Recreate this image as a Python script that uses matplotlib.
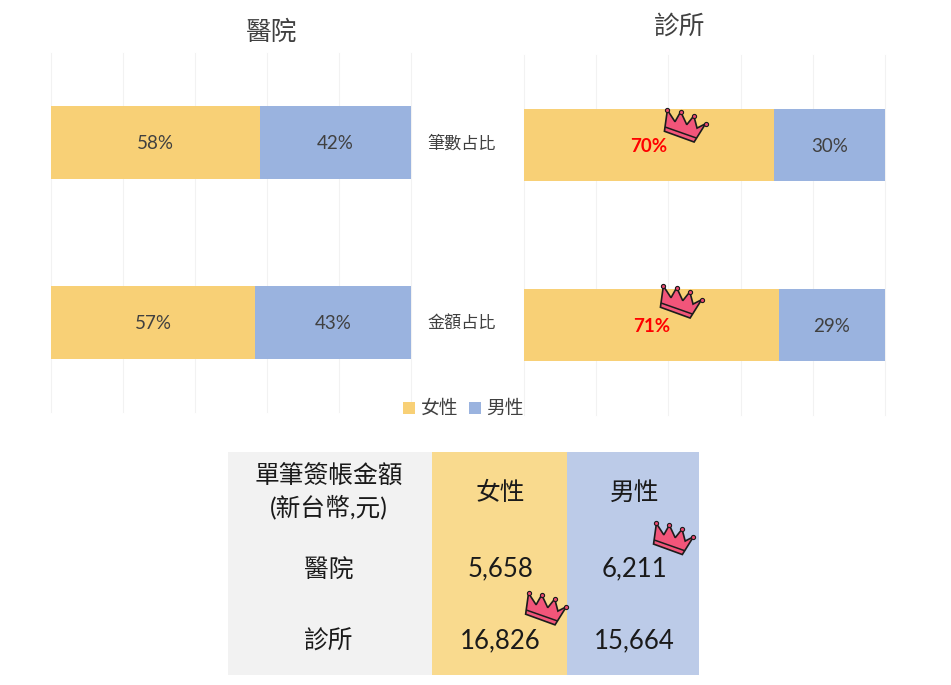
import matplotlib
matplotlib.use("Agg")
from matplotlib import pyplot as plt
from matplotlib.patches import Polygon, Rectangle
from matplotlib.ticker import MultipleLocator
import numpy as np

plt.rcParams['font.family'] = ['Lato', 'Noto Sans CJK TC', 'DejaVu Sans']

# datos
metricas = ["筆數占比", "金額占比"]
generos = ["女性", "男性"]
hosp_mujer = [58.0, 56.7]
hosp_hombre = [42.0, 43.3]
clin_mujer = [69.3, 70.6]
clin_hombre = [30.7, 29.4]
hosp_labels = [["58%", "57%"], ["42%", "43%"]]
clin_labels = [["70%", "71%"], ["30%", "29%"]]
tabla_titulo = "單筆簽帳金額\n(新台幣,元)"
tabla_filas = ["醫院", "診所"]
tabla_mujer = ["5,658", "16,826"]
tabla_hombre = ["6,211", "15,664"]

AMARILLO = "#f8d076"
AZUL = "#9ab3df"
GRIS = "#404040"
W, H = 951, 685

fig = plt.figure(figsize=(W / 100, H / 100), dpi=100)

def crear_ejes(x0, x1, y0, y1):
    return fig.add_axes([x0 / W, 1 - y1 / H, (x1 - x0) / W, (y1 - y0) / H])

def barras(ax, mujer, hombre, labels, destacar=False):
    ys = np.arange(len(metricas))
    ax.barh(ys, mujer, height=0.405, color=AMARILLO, zorder=3)
    ax.barh(ys, hombre, left=mujer, height=0.405, color=AZUL, zorder=3)
    for i in ys:
        kw = dict(color="red", fontweight="bold") if destacar else dict(color=GRIS)
        ax.text(mujer[i] / 2, i + 0.006, labels[0][i], ha="center", va="center",
                fontsize=13.5, zorder=4, **kw)
        ax.text(mujer[i] + hombre[i] / 2, i + 0.006, labels[1][i], ha="center", va="center",
                fontsize=13.5, color=GRIS, zorder=4)
    ax.set_xlim(0, 100)
    ax.set_ylim(1.5, -0.5)
    ax.xaxis.set_major_locator(MultipleLocator(20))
    ax.grid(axis="x", color="#f2f2f2", lw=0.8, zorder=0, clip_on=False)
    ax.tick_params(left=False, bottom=False, labelleft=False, labelbottom=False)
    for s in ax.spines.values():
        s.set_visible(False)

ax1 = crear_ejes(51, 411, 53, 412)
barras(ax1, hosp_mujer, hosp_hombre, hosp_labels)
ax2 = crear_ejes(524, 885, 55, 415)
barras(ax2, clin_mujer, clin_hombre, clin_labels, destacar=True)

# capa en pixeles para textos, tabla y coronas
top = fig.add_axes([0, 0, 1, 1], zorder=10)
top.set_xlim(0, W)
top.set_ylim(H, 0)
top.axis("off")

top.text(272, 32, tabla_filas[0], ha="center", va="center", fontsize=18.5, color=GRIS)
top.text(680, 26, tabla_filas[1], ha="center", va="center", fontsize=18.5, color=GRIS)
top.text(462, 143, metricas[0], ha="center", va="center", fontsize=12.3, color=GRIS)
top.text(462, 322.5, metricas[1], ha="center", va="center", fontsize=12.3, color=GRIS)

# leyenda
top.add_patch(Rectangle((403, 402), 12, 12, color=AMARILLO, lw=0))
top.text(421, 408, generos[0], ha="left", va="center", fontsize=13.5, color=GRIS)
top.add_patch(Rectangle((469, 402), 12, 12, color=AZUL, lw=0))
top.text(486, 408, generos[1], ha="left", va="center", fontsize=13.5, color=GRIS)

# tabla
columnas = [(228, 432, "#f2f2f2"), (432, 567, "#f9da8e"), (567, 699, "#bccbe8")]
for x0, x1, c in columnas:
    top.add_patch(Rectangle((x0, 452), x1 - x0, 223, color=c, lw=0, zorder=1))

NEGRO = "#1a1a1a"
top.text(329, 492, tabla_titulo, ha="center", va="center", fontsize=17.8,
         color=NEGRO, linespacing=1.33, zorder=2)
top.text(500, 492, generos[0], ha="center", va="center", fontsize=17.8, color=NEGRO, zorder=2)
top.text(635, 492, generos[1], ha="center", va="center", fontsize=17.8, color=NEGRO, zorder=2)
for fila, y in zip(range(2), [569, 641]):
    top.text(329, y, tabla_filas[fila], ha="center", va="center", fontsize=17.8, color=NEGRO, zorder=2)
    top.text(500.5, y, tabla_mujer[fila], ha="center", va="center", fontsize=18.5, color=NEGRO, zorder=2)
    top.text(634.5, y, tabla_hombre[fila], ha="center", va="center", fontsize=18.5, color=NEGRO, zorder=2)

# corona
corona = np.array([[-19.3, 4.7], [-16.3, -17], [-8.5, -5], [-2.7, -15.3], [3.5, -2], [10.7, -11],
                   [14, 1.5], [22.7, -3], [11, 15.7]])
banda = np.array([[-18.0, 0.6], [13.0, 11.5]])
puntas = corona[[1, 3, 5, 7]]

def dibujar_corona(cx, cy, esc=1.0):
    off = np.array([cx, cy])
    centro = np.array([1.7, -0.65])
    top.add_patch(Polygon((corona - centro) * esc + off, closed=True, fc="#f2557a", ec="#1c1c1c", lw=1.2, zorder=5))
    top.plot(*((banda - centro) * esc + off).T, color="#1c1c1c", lw=1.1, zorder=6)
    top.scatter(*((puntas - centro) * esc + off).T, s=9, c="#e8476e", edgecolors="#1c1c1c", linewidths=0.8, zorder=7)

for cx, cy, esc in [(685, 126, 0.98), (681, 302, 0.98), (673.5, 539, 0.95), (546, 609, 0.97)]:
    dibujar_corona(cx, cy, esc)

fig.savefig("out.png", dpi=100)
